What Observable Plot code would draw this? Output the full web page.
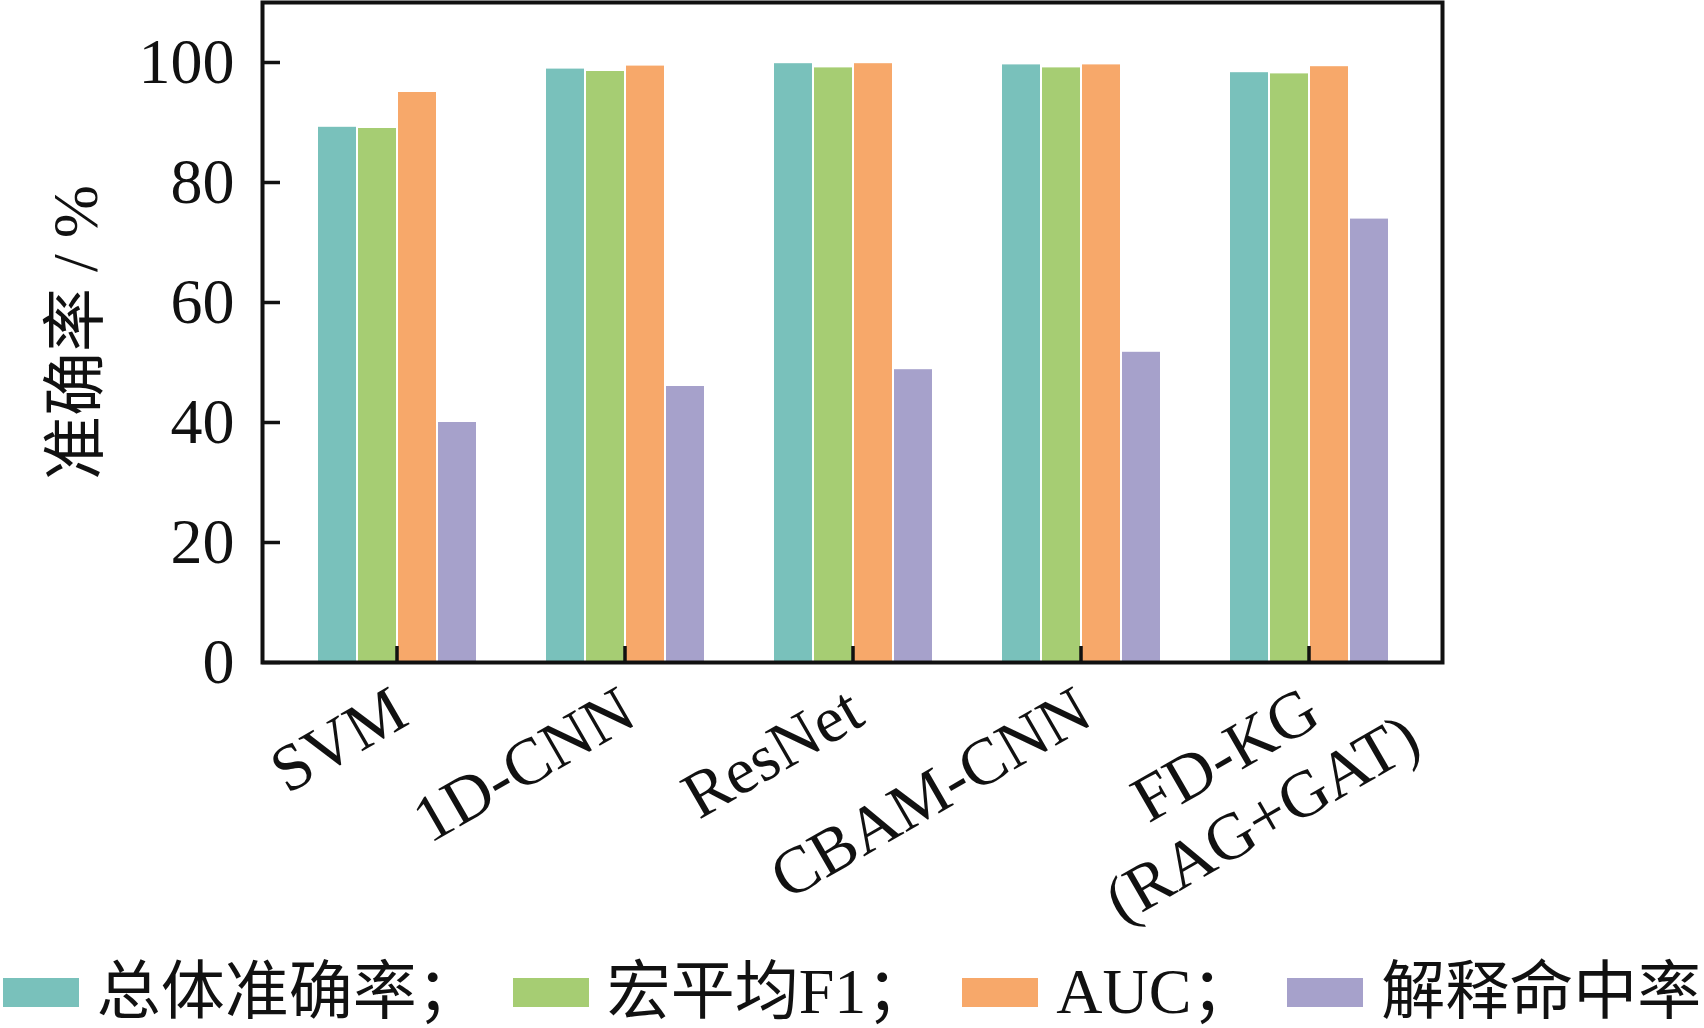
<!DOCTYPE html>
<html><head><meta charset="utf-8">
<script src="https://cdn.jsdelivr.net/npm/d3@7"></script>
<script src="https://cdn.jsdelivr.net/npm/@observablehq/plot@0.6"></script>
<style>
body{margin:0;background:#fff;}
#wrap{position:relative;width:1704px;height:1028px;overflow:hidden;font-family:"Liberation Serif","Noto Sans CJK SC",serif;}
#wrap svg{position:absolute;left:0;top:0;overflow:visible;}
#legend{position:absolute;left:-100px;top:957px;width:1904px;display:flex;justify-content:center;align-items:center;white-space:nowrap;font-size:64px;line-height:70px;color:#111;}
.item{display:flex;align-items:center;margin:0 16px;}
.sw{width:76px;height:29px;margin-right:18px;}
</style></head><body>
<div id="wrap"><div id="legend"></div></div>
<script>
// ---- data ----
const models = ["SVM", "1D-CNN", "ResNet", "CBAM-CNN", "FD-KG"];
const modelLabels = ["SVM", "1D-CNN", "ResNet", "CBAM-CNN", "FD-KG\n(RAG+GAT)"];
const metrics = ["总体准确率", "宏平均F1", "AUC", "解释命中率"];
const legendLabels = ["总体准确率；", "宏平均F1；", "AUC；", "解释命中率"];
const colors = ["#79c1bb", "#a6cd73", "#f7a86a", "#a6a1cb"];
const overallAcc = [89.2, 98.9, 99.8, 99.6, 98.3];
const macroF1   = [89.0, 98.5, 99.1, 99.1, 98.1];
const aucValues = [95.0, 99.4, 99.8, 99.6, 99.3];
const hitRate   = [40.0, 46.0, 48.8, 51.7, 73.9];
const yTicks = [0, 20, 40, 60, 80, 100];
const yLabel = "准确率 / %";

const seriesValues = [overallAcc, macroF1, aucValues, hitRate];
const data = models.flatMap((m, i) => metrics.map((k, j) => ({model: m, metric: k, value: seriesValues[j][i]})));

const W = 1704, H = 945;
const common = {
  width: W, height: H,
  marginLeft: 262, marginRight: 262, marginTop: 2, marginBottom: 283,
  style: {fontFamily: '"Liberation Serif","Noto Sans CJK SC",serif', background: "transparent", color: "#111"}
};
const groupPad = 0.164;

// bars (grouped via fx facets)
const bars = Plot.plot({
  ...common,
  fx: {domain: models, paddingInner: groupPad, paddingOuter: groupPad, axis: null, label: null},
  x: {domain: metrics, paddingInner: 0.05, paddingOuter: 0.38, axis: null},
  y: {domain: [0, 110], axis: null},
  color: {domain: metrics, range: colors},
  marks: [
    Plot.barY(data, {fx: "model", x: "metric", y: "value", fill: "metric"})
  ]
});

// frame, axes and labels
const axes = Plot.plot({
  ...common,
  x: {type: "band", domain: models, paddingInner: groupPad, paddingOuter: groupPad, axis: null},
  y: {domain: [0, 110], axis: null},
  marks: [
    Plot.frame({stroke: "#111", strokeWidth: 4}),
    Plot.axisY(yTicks, {tickSize: -18, tickPadding: 46, fontSize: 64, label: null, stroke: "#111", strokeWidth: 3.5, tickFormat: d => String(d)}),
    Plot.axisX({tickSize: -16, tickFormat: () => "", label: null, stroke: "#111", strokeWidth: 3.5}),
    Plot.text(models, {x: d => d, text: (d, i) => modelLabels[i], frameAnchor: "bottom",
      textAnchor: "end", lineAnchor: "top", rotate: -30, dx: -12, dy: 15, fontSize: 66, lineHeight: 1.12, fill: "#111"}),
    Plot.text([yLabel], {frameAnchor: "left", textAnchor: "middle", text: d => d, rotate: -90, dx: -186, fontSize: 64, fill: "#111"})
  ]
});

const wrap = document.getElementById("wrap");
wrap.appendChild(bars);
wrap.appendChild(axes);

// center the lines of multi-line tick labels relative to the first line
d3.select(axes).selectAll("text").each(function() {
  const tspans = this.querySelectorAll("tspan");
  if (tspans.length > 1) {
    const w1 = tspans[0].getComputedTextLength();
    this.setAttribute("text-anchor", "middle");
    tspans.forEach(t => t.setAttribute("x", -w1 / 2));
  }
});

// legend
const legend = d3.select("#legend");
legendLabels.forEach((lab, i) => {
  const it = legend.append("div").attr("class", "item");
  it.append("div").attr("class", "sw").style("background", colors[i]);
  it.append("span").text(lab);
});
</script>
</body></html>
